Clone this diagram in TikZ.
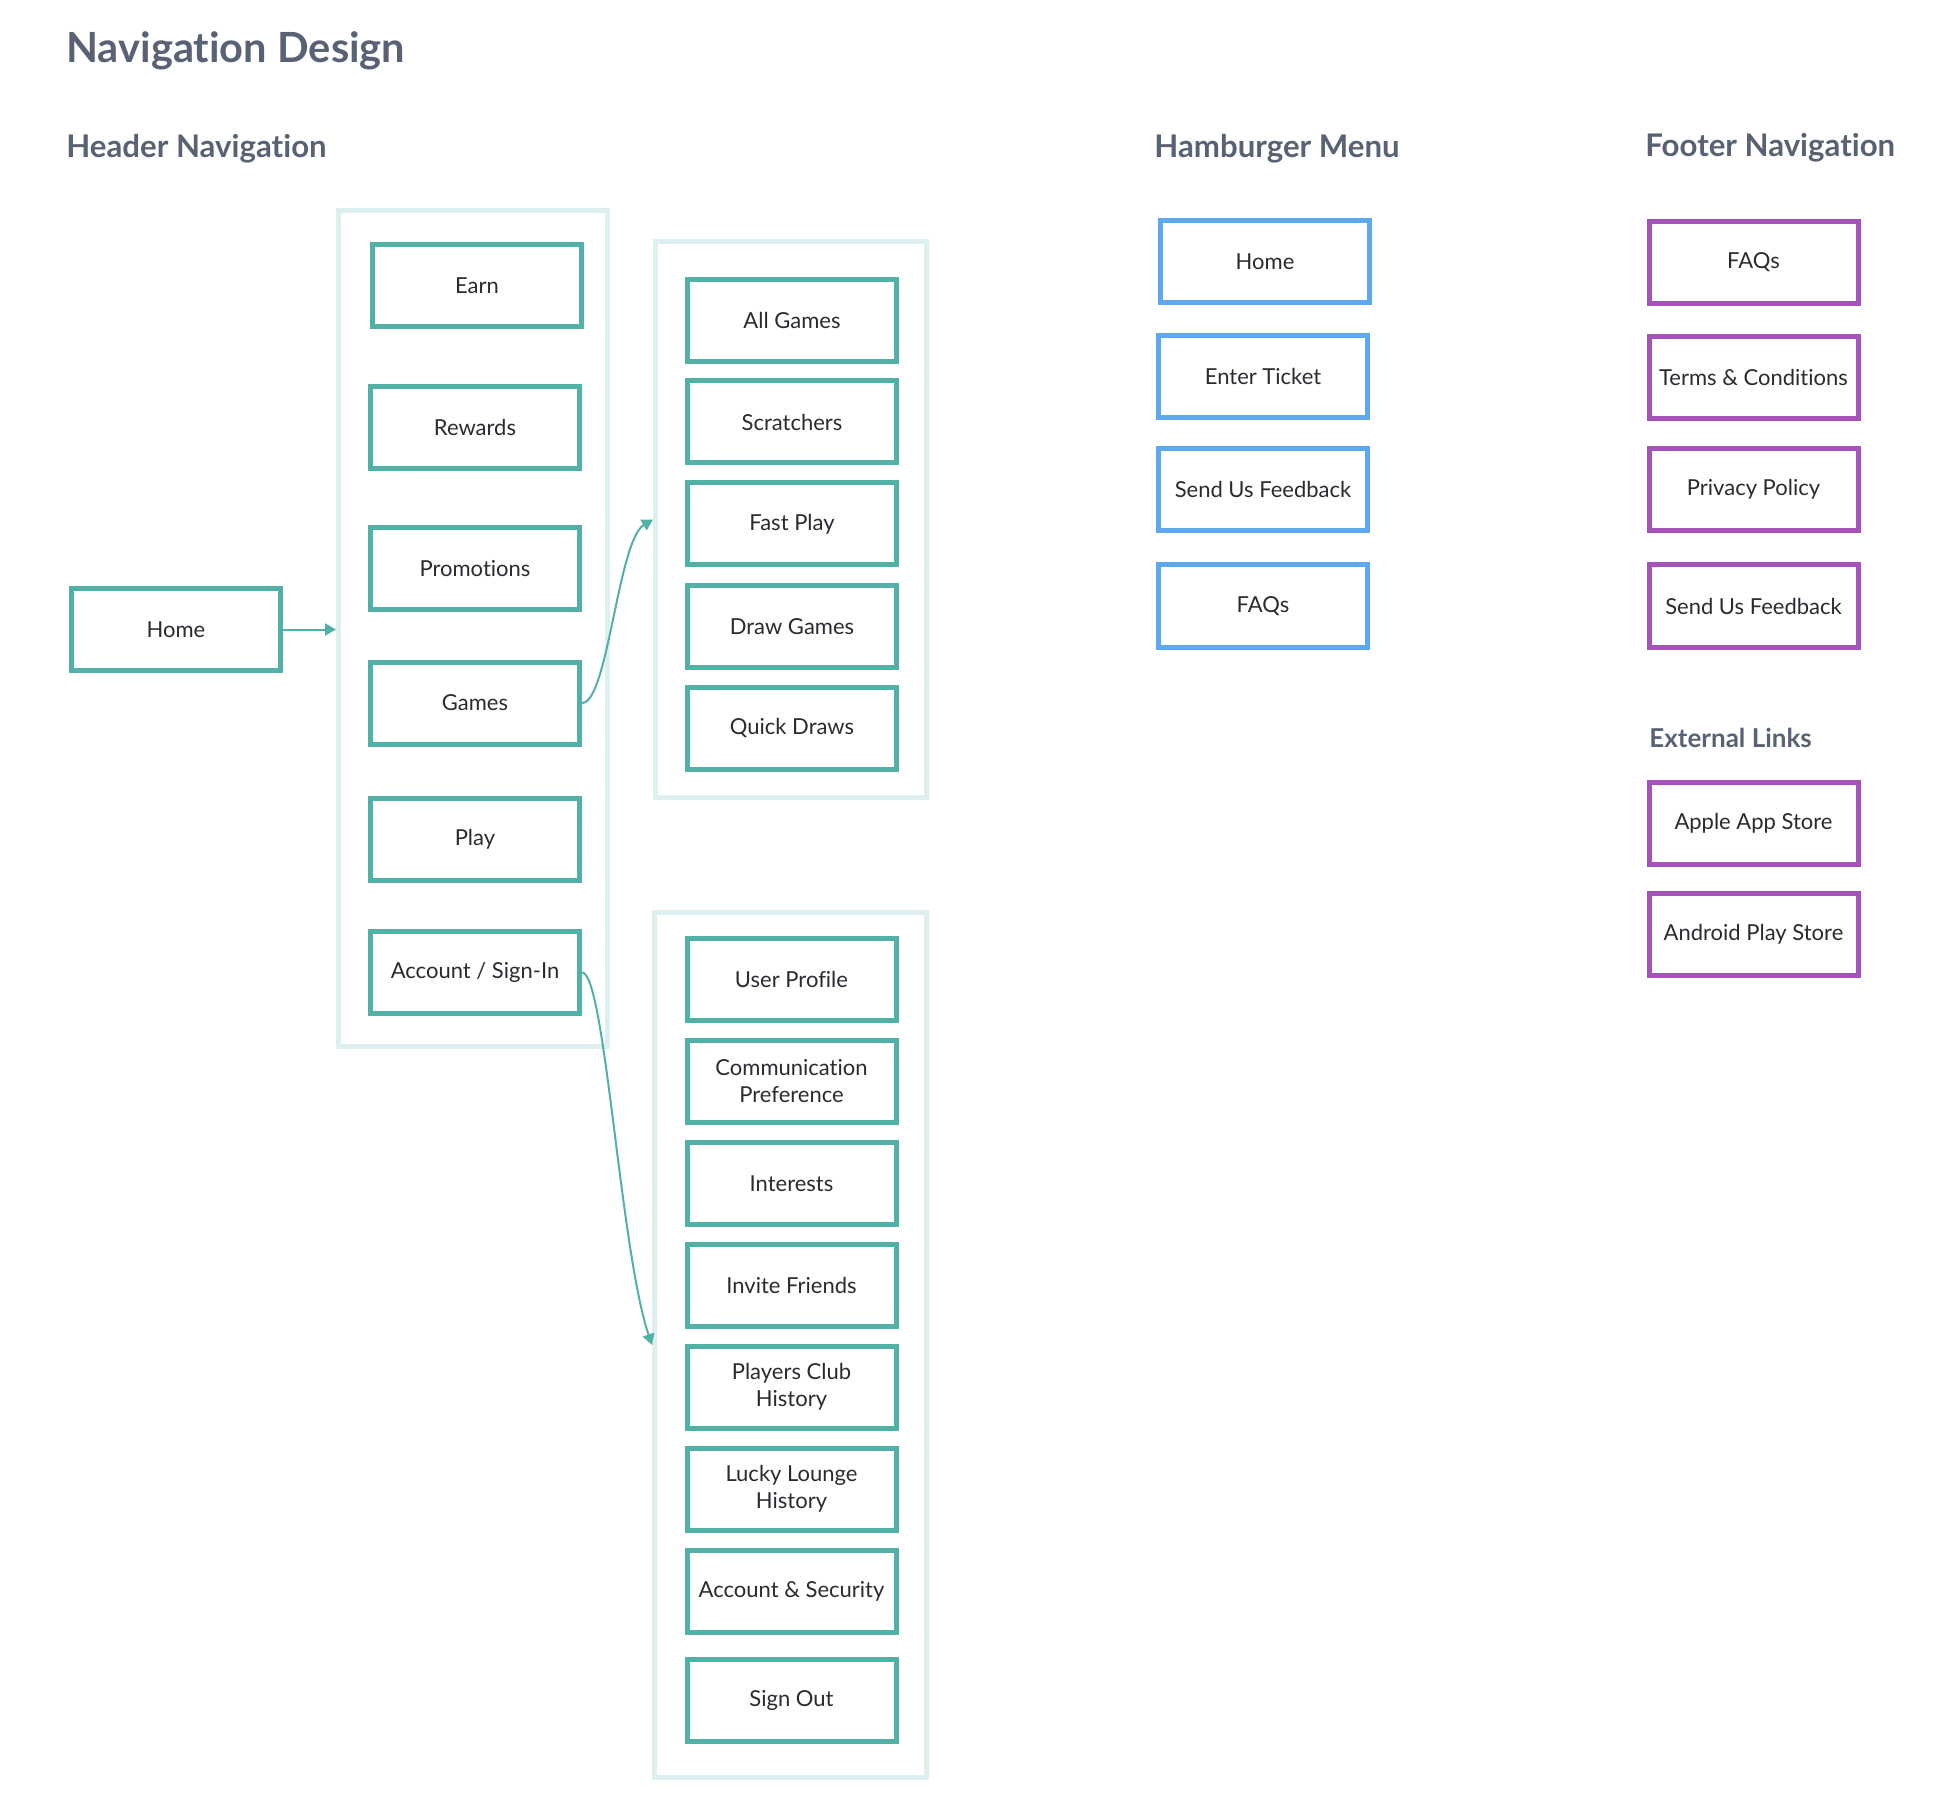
\documentclass[tikz,border=0pt]{standalone}
\usepackage{fontspec}
\setmainfont{Lato}[Ligatures=NoCommon]
\usetikzlibrary{arrows.meta}
\definecolor{tealb}{HTML}{52B1A6}
\definecolor{lightc}{HTML}{DDF0EF}
\definecolor{blueb}{HTML}{5DA8EE}
\definecolor{purpb}{HTML}{A552BA}
\definecolor{headc}{HTML}{596275}
\definecolor{txtc}{HTML}{2A2A30}
\begin{document}
\begin{tikzpicture}[x=0.5pt,y=-0.5pt,
  nbox/.style={draw=tealb, line width=2.5pt, minimum width=104.5pt, minimum height=41pt,
    inner sep=0pt, align=center, text=txtc, font=\fontsize{11}{13.5}\selectfont},
  bbox/.style={nbox, draw=blueb},
  pbox/.style={nbox, draw=purpb},
  cont/.style={draw=lightc, line width=2.5pt, inner sep=0pt},
  title/.style={anchor=base west, inner sep=0pt, text=headc, font=\fontsize{20.8}{24}\bfseries\selectfont},
  head/.style={anchor=base west, inner sep=0pt, text=headc, font=\fontsize{15.6}{18}\bfseries\selectfont},
  subhead/.style={anchor=base west, inner sep=0pt, text=headc, font=\fontsize{13}{16}\bfseries\selectfont},
  conn/.style={draw=tealb, line width=1pt, -{Triangle[length=5.5pt,width=6pt]}}]
\useasboundingbox (0,0) rectangle (1954,1802);

% headings
\node[title] (tMain) at (66,62.5) {Navigation Design};
\node[head] (tHeader) at (66,158) {Header Navigation};
\node[head] (tHam) at (1154,158) {Hamburger Menu};
\node[head] (tFoot) at (1645,157) {Footer Navigation};
\node[subhead] (tExt) at (1649,747) {External Links};

% containers
\node[cont, minimum width=134.5pt, minimum height=417.5pt] (cHdr) at (473,628.5) {};
\node[cont, minimum width=135.5pt, minimum height=278pt] (cGames) at (791,519.5) {};
\node[cont, minimum width=136pt, minimum height=432.5pt] (cAcc) at (790.5,1345) {};

% header navigation
\node[nbox] (home) at (176,629.5) {Home};
\node[nbox] (earn) at (477,286) {Earn};
\node[nbox] (rewards) at (475,427.5) {Rewards};
\node[nbox] (promos) at (475,568.5) {Promotions};
\node[nbox] (games) at (475,703) {Games};
\node[nbox] (play) at (475,839.5) {Play};
\node[nbox] (account) at (475,972.5) {Account / Sign-In};

% games submenu
\node[nbox] (allgames) at (792,320.5) {All Games};
\node[nbox] (scratch) at (792,422) {Scratchers};
\node[nbox] (fastplay) at (792,524) {Fast Play};
\node[nbox] (drawgames) at (792,626.5) {Draw Games};
\node[nbox] (quick) at (792,728) {Quick Draws};

% account submenu
\node[nbox] (profile) at (791.5,979) {User Profile};
\node[nbox] (comm) at (791.5,1081) {Communication\\Preference};
\node[nbox] (interests) at (791.5,1183.5) {Interests};
\node[nbox] (invite) at (791.5,1285) {Invite Friends};
\node[nbox] (players) at (791.5,1387) {Players Club\\History};
\node[nbox] (lucky) at (791.5,1489) {Lucky Lounge\\History};
\node[nbox] (security) at (791.5,1591.5) {Account \& Security};
\node[nbox] (signout) at (791.5,1700) {Sign Out};

% hamburger menu
\node[bbox] (hHome) at (1265,262) {Home};
\node[bbox] (hTicket) at (1263,376.5) {Enter Ticket};
\node[bbox] (hFeed) at (1263,489.5) {Send Us Feedback};
\node[bbox] (hFaq) at (1263,606) {FAQs};

% footer navigation
\node[pbox] (fFaq) at (1753.5,262.5) {FAQs};
\node[pbox] (fTerms) at (1753.5,377.5) {Terms \& Conditions};
\node[pbox] (fPriv) at (1753.5,489.5) {Privacy Policy};
\node[pbox] (fFeed) at (1753.5,606) {Send Us Feedback};
\node[pbox] (fApple) at (1753.5,823) {Apple App Store};
\node[pbox] (fAndroid) at (1753.5,934) {Android Play Store};

% connectors
\draw[conn] (home.east) -- (home.east -| cHdr.west);
\draw[conn] (games.east) .. controls (608,703) and (618,540) .. (cGames.west);
\draw[conn] (account.east) .. controls (605,972) and (620,1250) .. (cAcc.west);
\end{tikzpicture}
\end{document}
